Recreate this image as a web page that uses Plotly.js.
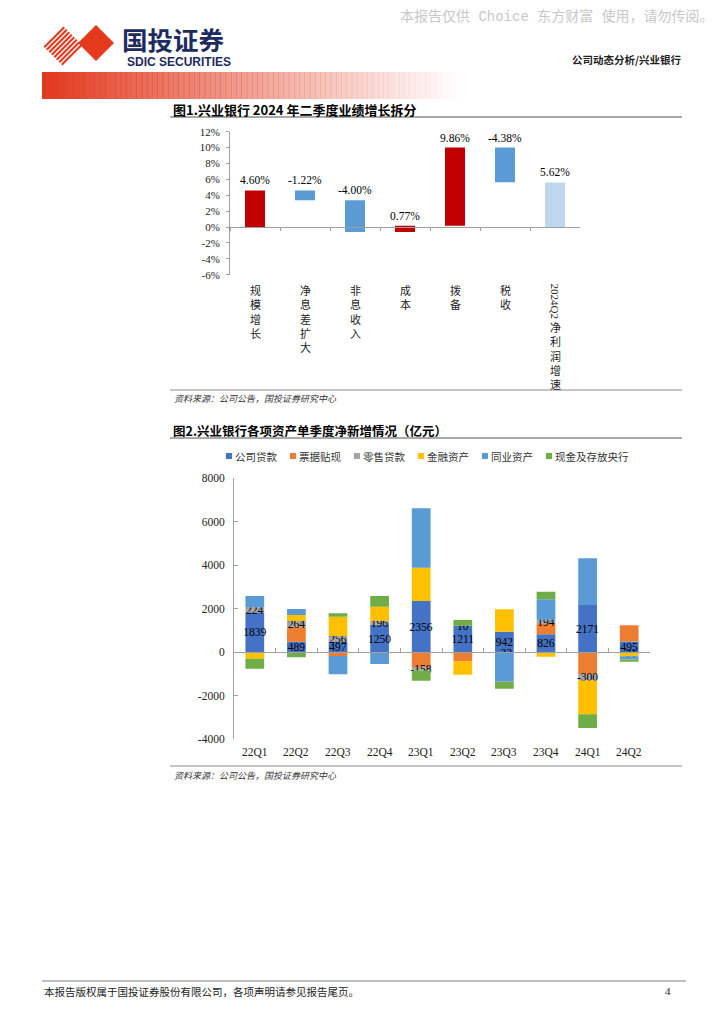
<!DOCTYPE html>
<html><head><meta charset="utf-8">
<script src="https://cdn.plot.ly/plotly-3.0.1.min.js"></script>
<style>html,body{margin:0;padding:0;background:#fff}#chart{width:724px;height:1024px}</style>
</head><body><div id="chart"></div>
<script>
// ---------- Figure 1 data ----------
const cats1 = ['规模增长','净息差扩大','非息收入','成本','拨备','税收','2024Q2净利润增速'];
const vals1 = [4.60, -1.22, -4.00, 0.77, 9.86, -4.38, 5.62];
const kinds1 = ['relative','relative','relative','relative','relative','relative','total'];
const y1TickVals = [-6,-4,-2,0,2,4,6,8,10,12];
const y1TickText = ['-6%','-4%','-2%','0%','2%','4%','6%','8%','10%','12%'];

// ---------- Figure 2 data ----------
const cats2 = ['22Q1','22Q2','22Q3','22Q4','23Q1','23Q2','23Q3','23Q4','24Q1','24Q2'];
const seriesNames = ['公司贷款','票据贴现','零售贷款','金融资产','同业资产','现金及存放央行'];
const corpLoans    = [1839, 489, 497, 1250, 2356, 1211, 942, 826, 2171, 495];
const billDiscount = [0, 690, -170, 0, -675, -414, 0, 475, -1000, 746];
const retailLoans  = [224, 264, 256, 196, -158, 10, -22, 194, -300, -31];
const finAssets    = [-300, 274, 887, 650, 1534, -615, 1035, -200, -1550, -150];
const interbank    = [530, 276, -840, -540, 2731, 0, -1330, 942, 2150, -150];
const cashCB       = [-460, -230, 150, 492, -473, 264, -322, 349, -630, -100];
const y2TickVals = [-4000,-2000,0,2000,4000,6000,8000];
const y2TickText = ['-4000','-2000','0','2000','4000','6000','8000'];

// ---------- styles ----------
const W = 724, H = 1024;
const PX = p => p / W, PY = p => 1 - p / H;
const C_UP = '#C00000', C_DOWN = '#5B9BD5', C_TOTAL = '#BDD7EE';
const seriesColors = ['#4472C4','#ED7D31','#A5A5A5','#FFC000','#5B9BD5','#70AD47'];
const labelled = [true, false, true, false, false, false];
const SERIF = 'Liberation Serif, Times New Roman, serif';
const CJK = 'Noto Sans CJK SC, sans-serif';
const AX = '#A0A0A0';

const y1Dom = [PY(274.7), PY(131.7)];
const y1Range = [-6, 12];
const y1Zero = y1Dom[0] + (0 - y1Range[0]) / (y1Range[1] - y1Range[0]) * (y1Dom[1] - y1Dom[0]);
const y2Dom = [PY(739.3), PY(478.3)];
const y2Range = [-4000, 8000];
const y2Zero = y2Dom[0] + (0 - y2Range[0]) / (y2Range[1] - y2Range[0]) * (y2Dom[1] - y2Dom[0]);

// ---------- waterfall geometry from values ----------
let run = 0;
const base1 = [], len1 = [], col1 = [], top1 = [];
vals1.forEach((v, i) => {
  if (kinds1[i] === 'total') { base1.push(0); col1.push(C_TOTAL); }
  else { base1.push(run); col1.push(v >= 0 ? C_UP : C_DOWN); run += v; }
  len1.push(v);
  top1.push(Math.max(base1[i], base1[i] + v));
});

const traces = [];
traces.push({
  type: 'bar', x: cats1, y: len1, base: base1, width: 0.4,
  marker: { color: col1 }, xaxis: 'x', yaxis: 'y', hoverinfo: 'skip', showlegend: false
});

const series2 = [corpLoans, billDiscount, retailLoans, finAssets, interbank, cashCB];
series2.forEach((vals, i) => {
  traces.push({
    type: 'bar', name: seriesNames[i], x: cats2, y: vals,
    xaxis: 'x2', yaxis: 'y2', marker: { color: seriesColors[i] },
    text: labelled[i] ? vals.map(String) : undefined,
    textposition: labelled[i] ? 'inside' : 'none',
    insidetextanchor: 'middle', textangle: 0, constraintext: 'none',
    insidetextfont: { family: SERIF, size: 11.5, color: '#000' },
    cliponaxis: false, hoverinfo: 'skip', showlegend: false
  });
});

// ---------- annotations ----------
const ann = [];
ann.push({ xref:'paper', yref:'paper', x: PX(716), y: PY(16), xanchor:'right', yanchor:'middle', showarrow:false,
  text:'本报告仅供 Choice 东方财富 使用，请勿传阅。', font:{ family:'Liberation Mono, Noto Sans CJK SC', size:14, color:'#C8C8C8' } });
ann.push({ xref:'paper', yref:'paper', x: PX(120), y: PY(38.5), xanchor:'left', yanchor:'middle', showarrow:false,
  text:'<b>国投证券</b>', font:{ family: CJK, size:25.5, color:'#1E2B5E' } });
ann.push({ xref:'paper', yref:'paper', x: PX(125), y: PY(61.5), xanchor:'left', yanchor:'middle', showarrow:false,
  text:'<b>SDIC SECURITIES</b>', font:{ family:'Liberation Sans, Arial', size:12, color:'#1E2B5E' } });
ann.push({ xref:'paper', yref:'paper', x: PX(684), y: PY(59), xanchor:'right', yanchor:'middle', showarrow:false,
  text:'<b>公司动态分析/兴业银行</b>', font:{ family: CJK, size:10.5, color:'#222' } });

ann.push({ xref:'paper', yref:'paper', x: PX(171), y: PY(109), xanchor:'left', yanchor:'middle', showarrow:false,
  text:'<b>图1.兴业银行 2024 年二季度业绩增长拆分</b>', font:{ family: CJK, size:13, color:'#000' } });

// waterfall value labels above each bar
cats1.forEach((c, i) => {
  ann.push({ xref:'x', yref:'y', x: c, y: top1[i], xanchor:'center', yanchor:'bottom', yshift: 2, showarrow:false,
    text: vals1[i].toFixed(2) + '%', font:{ family: SERIF, size:11.5, color:'#000' } });
});

cats1.forEach(c => {
  const m = c.match(/^[0-9A-Za-z]+/);
  const latin = m ? m[0] : '';
  const rest = c.slice(latin.length);
  let top = 280;
  if (latin) {
    ann.push({ xref:'x', yref:'paper', x: c, y: PY(281), xanchor:'center', yanchor:'top', showarrow:false,
      textangle: 90, text: latin, font:{ family: SERIF, size:11, color:'#222' } });
    top = 281 + latin.length * 6;
  }
  ann.push({ xref:'x', yref:'paper', x: c, y: PY(top), xanchor:'center', yanchor:'top', showarrow:false,
    text: rest.split('').join('<br>'), font:{ family: CJK, size:11, color:'#222' } });
});

ann.push({ xref:'paper', yref:'paper', x: PX(172), y: PY(398), xanchor:'left', yanchor:'middle', showarrow:false,
  text:'<i>资料来源：公司公告，国投证券研究中心</i>', font:{ family: CJK, size:9, color:'#333' } });

ann.push({ xref:'paper', yref:'paper', x: PX(171), y: PY(430), xanchor:'left', yanchor:'middle', showarrow:false,
  text:'<b>图2.兴业银行各项资产单季度净新增情况（亿元）</b>', font:{ family: CJK, size:12.5, color:'#000' } });

// manual legend
const shapes = [];
seriesNames.forEach((n, i) => {
  const sx = 229 + i * 64;
  shapes.push({ type:'rect', xref:'paper', yref:'paper', x0: PX(sx - 3), x1: PX(sx + 3), y0: PY(459), y1: PY(453),
    fillcolor: seriesColors[i], line:{ width:0 } });
  ann.push({ xref:'paper', yref:'paper', x: PX(sx + 4), y: PY(456), xanchor:'left', yanchor:'middle', showarrow:false,
    text: n, font:{ family: CJK, size:10.5, color:'#333' } });
});

cats2.forEach(c => {
  ann.push({ xref:'x2', yref:'paper', x: c, y: PY(752), xanchor:'center', yanchor:'middle', showarrow:false,
    text: c, font:{ family: SERIF, size:11.5, color:'#222' } });
});

ann.push({ xref:'paper', yref:'paper', x: PX(172), y: PY(775), xanchor:'left', yanchor:'middle', showarrow:false,
  text:'<i>资料来源：公司公告，国投证券研究中心</i>', font:{ family: CJK, size:9, color:'#333' } });

ann.push({ xref:'paper', yref:'paper', x: PX(42), y: PY(991), xanchor:'left', yanchor:'middle', showarrow:false,
  text:'本报告版权属于国投证券股份有限公司，各项声明请参见报告尾页。', font:{ family: CJK, size:10.5, color:'#222' } });
ann.push({ xref:'paper', yref:'paper', x: PX(668), y: PY(991), xanchor:'center', yanchor:'middle', showarrow:false,
  text:'4', font:{ family: SERIF, size:11, color:'#222' } });

// ---------- decorative shapes ----------
const N = 80, gx0 = 42, gx1 = 462;
for (let i = 0; i < N; i++) {
  const a = Math.pow(1 - i / N, 1.1);
  shapes.push({ type:'rect', xref:'paper', yref:'paper',
    x0: PX(gx0 + (gx1 - gx0) * i / N), x1: PX(gx0 + (gx1 - gx0) * (i + 1) / N + 0.5),
    y0: PY(99), y1: PY(72), fillcolor: `rgba(226,58,30,${a.toFixed(3)})`, line:{ width:0 }, layer:'below' });
}
// logo: striped diamond + solid diamond
const LOGO_RED = '#E5391D';
(function(){
  const cx = 63, cy = 46, h = 20, n = 8;
  for (let k = 0; k < n; k++) {
    const c = cx + cy - h + (k + 0.5) * (2 * h / n);
    const d0 = cx - cy - h, d1 = cx - cy + h;
    const p0 = [(c + d0) / 2, (c - d0) / 2], p1 = [(c + d1) / 2, (c - d1) / 2];
    shapes.push({ type:'line', xref:'paper', yref:'paper', x0: PX(p0[0]), y0: PY(p0[1]), x1: PX(p1[0]), y1: PY(p1[1]),
      line:{ color: LOGO_RED, width: 2.2 } });
  }
  const sx = 96, sy = 43, sh = 18;
  const pts = [[sx, sy - sh], [sx + sh, sy], [sx, sy + sh], [sx - sh, sy]];
  const path = 'M' + pts.map(p => PX(p[0]).toFixed(5) + ',' + PY(p[1]).toFixed(5)).join('L') + 'Z';
  shapes.push({ type:'path', xref:'paper', yref:'paper', path: path, fillcolor: LOGO_RED, line:{ width:0 } });
})();

const hline = (y, x0, x1, color, w) => ({ type:'line', xref:'paper', yref:'paper', x0: PX(x0), x1: PX(x1), y0: PY(y), y1: PY(y), line:{ color, width:w } });
shapes.push(hline(117, 170, 682, '#8C8C8C', 1.5));
shapes.push(hline(390, 170, 682, '#8C8C8C', 1));
shapes.push(hline(438, 170, 682, '#8C8C8C', 1.5));
shapes.push(hline(766, 170, 682, '#8C8C8C', 1));
shapes.push(hline(981, 42, 686, '#A8A8A8', 1.5));

const layout = {
  width: W, height: H, margin: { l:0, r:0, t:0, b:0 },
  paper_bgcolor: '#fff', plot_bgcolor: 'rgba(0,0,0,0)',
  font: { family: CJK, color: '#222' },
  barmode: 'relative', bargap: 0.55, showlegend: false,
  xaxis: { type:'category', domain:[PX(230), PX(580)], anchor:'free', position: y1Zero,
    range:[-0.5, 6.5], showline:true, linecolor:AX, linewidth:1, ticks:'outside', tickson:'boundaries',
    ticklen:3, tickcolor:AX, showticklabels:false, showgrid:false, zeroline:false, fixedrange:true },
  yaxis: { domain: y1Dom, range: y1Range, anchor:'x', tickmode:'array', tickvals: y1TickVals, ticktext: y1TickText,
    ticks:'outside', ticklen:3, tickcolor:AX, showline:true, linecolor:AX, linewidth:1, showgrid:false, zeroline:false,
    tickfont:{ family: SERIF, size:11, color:'#222' }, ticklabelstandoff: 4, fixedrange:true },
  xaxis2: { type:'category', domain:[PX(234), PX(650)], anchor:'free', position: y2Zero,
    range:[-0.5, 9.5], showline:true, linecolor:AX, linewidth:1, ticks:'inside', tickson:'boundaries',
    ticklen:4, tickcolor:AX, showticklabels:false, showgrid:false, zeroline:false, fixedrange:true },
  yaxis2: { domain: y2Dom, range: y2Range, anchor:'x2', tickmode:'array', tickvals: y2TickVals, ticktext: y2TickText,
    ticks:'inside', ticklen:4, tickcolor:AX, showline:true, linecolor:AX, linewidth:1, showgrid:false, zeroline:false,
    tickfont:{ family: SERIF, size:11.5, color:'#222' }, ticklabelstandoff: 6, fixedrange:true },
  annotations: ann, shapes: shapes
};

Plotly.newPlot('chart', traces, layout, { staticPlot: true, displayModeBar: false });
</script></body></html>
